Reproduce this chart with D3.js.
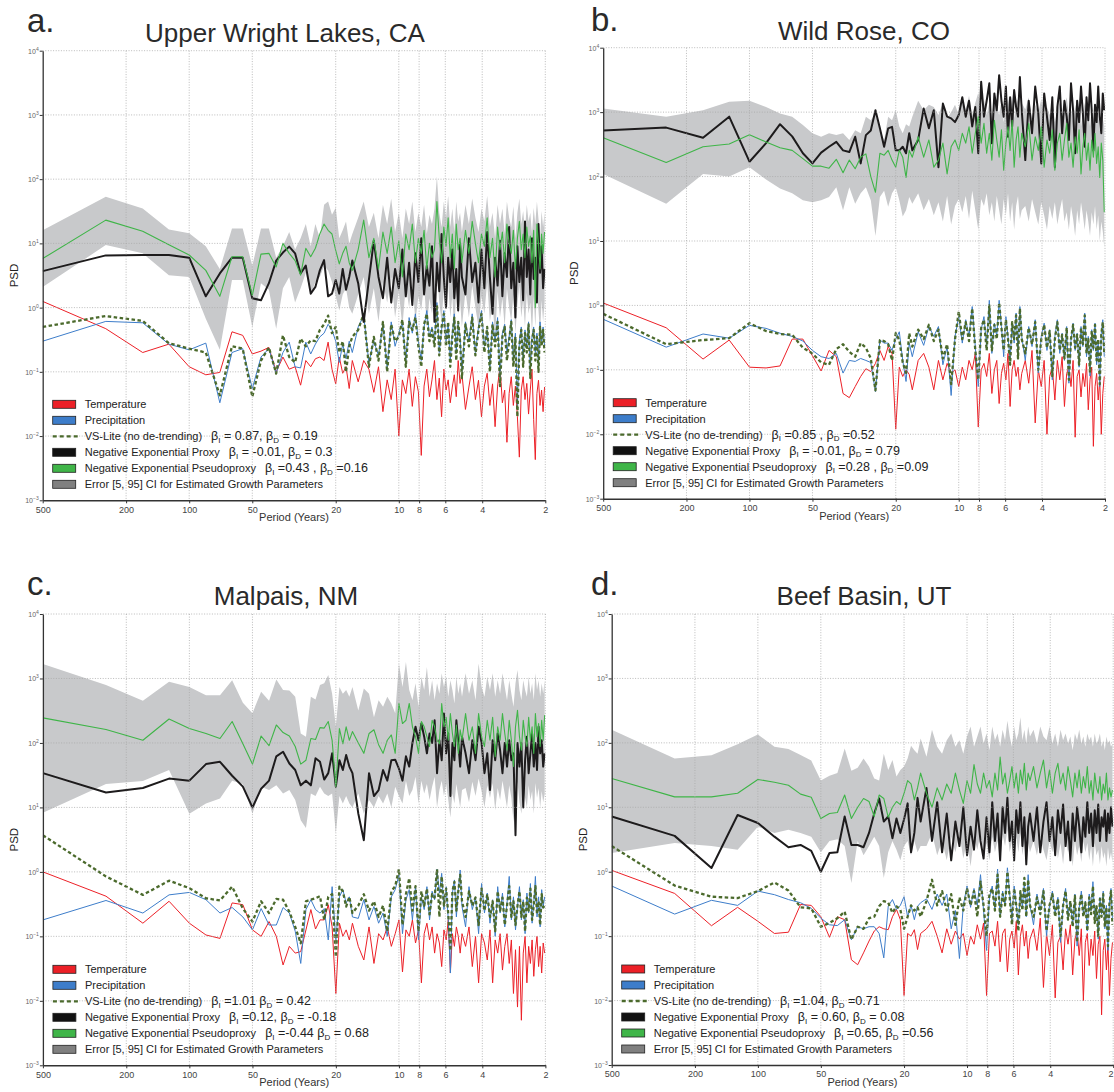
<!DOCTYPE html>
<html>
<head>
<meta charset="utf-8">
<script src="https://cdn.jsdelivr.net/npm/d3@7"></script>
<style>
  body { margin: 0; background: #fff; }
  text { font-family: "Liberation Sans", Arial, sans-serif; }
</style>
</head>
<body>
<div id="chart"></div>
<script>
// harmonics of a 500-yr record: every one up to 30, then thinned where the spectra get dense
const harmonics = d3.range(1, 31).concat(d3.range(32, 101, 2), d3.range(104, 249, 4));
const periods = harmonics.map(k => 500 / k);

const xTicks = [500, 200, 100, 50, 20, 10, 8, 6, 4, 2];
const yTicks = [1e-3, 1e-2, 1e-1, 1, 10, 100, 1000, 10000];

const legendLabels = ['Temperature', 'Precipitation', 'VS-Lite (no de-trending)',
  'Negative Exponential Proxy', 'Negative Exponential Pseudoproxy',
  'Error [5, 95] CI for Estimated Growth Parameters'];

// ---------- a. Upper Wright Lakes, CA ----------
const tempA = [1.25, 0.47, 0.2, 0.27, 0.12, 0.09, 0.098, 0.42, 0.37, 0.19, 0.21, 0.24, 0.1, 0.17, 0.11, 0.12, 0.062, 0.15, 0.12, 0.16, 0.17, 0.15, 0.29, 0.11, 0.065, 0.17, 0.095, 0.12, 0.055, 0.15,
  0.07, 0.15, 0.11, 0.048, 0.12, 0.024, 0.075, 0.037, 0.11, 0.01, 0.075, 0.046, 0.11, 0.029, 0.084, 0.049, 0.005, 0.06, 0.11, 0.041, 0.075, 0.15, 0.037, 0.08, 0.02, 0.11, 0.052, 0.075, 0.033, 0.058, 0.09, 0.041, 0.15, 0.066, 0.094,
  0.026, 0.058, 0.12, 0.037, 0.074, 0.02, 0.06, 0.095, 0.03, 0.065, 0.014, 0.06, 0.12, 0.033, 0.052, 0.008, 0.046, 0.084, 0.03, 0.06, 0.02, 0.0047, 0.052, 0.084, 0.037, 0.066, 0.022, 0.052, 0.11, 0.018, 0.0043, 0.046, 0.074, 0.03, 0.052, 0.024, 0.058];
const precA = [0.3, 0.61, 0.58, 0.27, 0.22, 0.28, 0.033, 0.2, 0.23, 0.055, 0.17, 0.23, 0.095, 0.2, 0.29, 0.12, 0.115, 0.29, 0.19, 0.27, 0.35, 0.4, 0.55, 0.45, 0.3, 0.14, 0.27, 0.16, 0.3, 0.2,
  0.5, 0.75, 0.14, 0.3, 0.18, 0.55, 0.12, 0.6, 0.25, 0.4, 0.6, 0.15, 0.7, 0.4, 0.8, 0.3, 0.15, 0.5, 0.9, 0.35, 0.5, 0.3, 1.2, 0.2, 0.45, 0.9, 0.3, 0.55, 0.15, 0.4, 0.8, 0.2, 0.55, 0.35, 0.1,
  0.6, 0.3, 0.8, 0.2, 0.5, 0.9, 0.25, 0.45, 0.12, 0.6, 0.3, 0.7, 0.08, 0.4, 0.55, 0.2, 0.35, 0.65, 0.15, 0.4, 0.03, 0.3, 0.5, 0.15, 0.45, 0.25, 0.6, 0.1, 0.35, 0.5, 0.2, 0.4, 0.12, 0.6, 0.3, 0.5, 0.25];
const vsA = [0.5, 0.74, 0.62, 0.28, 0.23, 0.2, 0.043, 0.25, 0.23, 0.041, 0.15, 0.24, 0.094, 0.37, 0.17, 0.14, 0.33, 0.25, 0.31, 0.3, 0.45, 0.55, 0.75, 0.4, 0.5, 0.2, 0.3, 0.1, 0.25, 0.35,
  0.45, 0.8, 0.12, 0.35, 0.15, 0.6, 0.1, 0.55, 0.3, 0.35, 0.65, 0.12, 0.6, 0.45, 0.7, 0.25, 0.12, 0.55, 0.8, 0.3, 0.45, 0.25, 1.1, 0.18, 0.5, 0.8, 0.25, 0.6, 0.12, 0.35, 0.7, 0.15, 0.6, 0.3, 0.08,
  0.55, 0.25, 0.7, 0.18, 0.45, 0.8, 0.2, 0.5, 0.1, 0.55, 0.25, 0.6, 0.06, 0.35, 0.5, 0.15, 0.3, 0.6, 0.12, 0.35, 0.02, 0.25, 0.45, 0.12, 0.4, 0.2, 0.55, 0.08, 0.3, 0.45, 0.15, 0.35, 0.1, 0.5, 0.25, 0.45, 0.2];
const proxyA = [3.7, 6.5, 6.6, 6.6, 6, 1.5, 3.4, 6, 6, 1.4, 1.3, 2.4, 5.4, 7.2, 8.9, 7, 3.4, 4.5, 1.65, 2.1, 3.8, 5.5, 1.5, 1.65, 2.7, 1.65, 4, 1.9, 3, 5.4,
  2.4, 0.6, 2.7, 11, 3, 1.4, 6, 1.2, 4, 2, 8, 1.5, 5, 1.1, 7, 2.5, 12, 1.6, 4.5, 2.2, 9, 0.6, 5, 1.8, 14, 3, 1, 6, 2.5, 8, 1.4, 4, 0.9, 10, 3,
  1.6, 12, 2.5, 5, 1.2, 8, 2, 15, 3, 0.8, 6, 2.2, 11, 1.5, 7, 3, 18, 2, 5, 0.7, 9, 2.5, 6, 1.3, 22, 3, 8, 1.6, 12, 2.8, 6, 1.2, 20, 3.5, 9, 2, 4];
const pseudoA = [5.8, 23, 15.5, 9.5, 6.6, 3.8, 1.5, 6.2, 6.2, 1.55, 6.8, 7, 4.3, 10, 7, 5.4, 3.2, 8.4, 6.2, 8.4, 14, 20, 16, 14, 7.8, 4.8, 7, 9, 5, 3.8,
  8, 23, 6, 12, 4, 15, 7, 18, 5, 11, 3, 14, 8, 20, 5, 12, 7, 16, 4, 10, 6, 8, 45, 12, 5, 18, 9, 25, 6, 14, 4, 20, 8, 12, 5,
  16, 7, 22, 10, 5, 14, 9, 25, 6, 12, 3, 18, 8, 15, 5, 20, 10, 7, 16, 4, 12, 22, 8, 14, 6, 18, 9, 13, 5, 16, 1, 20, 10, 4, 14, 7, 15];
const bandLoA = [2.1, 9.4, 7, 3.2, 3, 0.67, 0.22, 2.7, 2.7, 0.5, 2.4, 1.9, 0.47, 2, 3, 1.2, 2, 3.5, 1.6, 2.5, 3, 4.5, 3.8, 2.5, 1.5, 0.9, 1.6, 2, 1, 0.8,
  1.6, 3, 0.8, 2, 0.6, 2.5, 1.2, 3, 0.7, 1.8, 0.5, 2.2, 1, 2.8, 0.6, 1.5, 0.9, 2.4, 0.5, 1.4, 0.8, 1.8, 4, 1.2, 0.6, 2, 1, 2.6, 0.7, 1.5, 0.4, 2, 0.8, 1.3, 0.5,
  1.8, 0.7, 2.2, 1, 0.5, 1.5, 0.8, 2.5, 0.6, 1.2, 0.35, 1.8, 0.7, 1.4, 0.5, 2, 1, 0.6, 1.6, 0.4, 1.1, 2.2, 0.7, 1.3, 0.5, 1.7, 0.8, 1.2, 0.4, 1.5, 0.5, 1.8, 0.9, 0.4, 1.3, 0.6, 1.2];
const bandHiA = [16, 53, 35, 16.5, 14.4, 9, 4, 17, 17, 4.5, 17, 17, 6, 9, 15, 8, 12, 20, 9, 20, 12, 40, 45, 28, 36, 12, 16, 22, 10, 14,
  25, 45, 18, 30, 12, 40, 20, 50, 15, 30, 12, 35, 20, 45, 15, 30, 18, 40, 14, 28, 20, 35, 110, 30, 18, 45, 25, 55, 18, 35, 15, 45, 22, 30, 15,
  40, 20, 50, 25, 15, 35, 22, 55, 18, 30, 12, 40, 20, 35, 14, 45, 25, 18, 38, 12, 30, 50, 20, 32, 16, 40, 22, 30, 14, 36, 20, 45, 24, 12, 32, 18, 30];
const betaA = ['β_I = 0.87, β_D = 0.19', 'β_I = -0.01, β_D = 0.3', 'β_I =0.43 , β_D =0.16'];

// ---------- b. Wild Rose, CO ----------
const tempB = [1.09, 0.45, 0.147, 0.29, 0.11, 0.107, 0.115, 0.3, 0.3, 0.165, 0.096, 0.2, 0.16, 0.043, 0.037, 0.055, 0.079, 0.104, 0.094, 0.126, 0.2, 0.14, 0.23, 0.18, 0.012, 0.11, 0.079, 0.1, 0.085, 0.049,
  0.14, 0.18, 0.11, 0.049, 0.14, 0.07, 0.126, 0.088, 0.1, 0.055, 0.11, 0.07, 0.14, 0.1, 0.18, 0.013, 0.1, 0.126, 0.079, 0.18, 0.043, 0.1, 0.14, 0.03, 0.088, 0.126, 0.07, 0.18, 0.027, 0.1, 0.14, 0.079, 0.11, 0.049, 0.088,
  0.14, 0.062, 0.2, 0.015, 0.1, 0.055, 0.14, 0.01, 0.079, 0.11, 0.034, 0.14, 0.07, 0.16, 0.027, 0.088, 0.11, 0.055, 0.14, 0.009, 0.079, 0.1, 0.038, 0.088, 0.055, 0.126, 0.024, 0.07, 0.11, 0.0065, 0.055, 0.088, 0.034, 0.07, 0.01, 0.043, 0.079];
const precB = [0.61, 0.225, 0.36, 0.31, 0.49, 0.44, 0.37, 0.33, 0.28, 0.2, 0.16, 0.15, 0.18, 0.089, 0.14, 0.135, 0.15, 0.14, 0.13, 0.046, 0.29, 0.26, 0.26, 0.2, 0.3, 0.39, 0.14, 0.066, 0.26, 0.16,
  0.39, 0.24, 0.47, 0.33, 0.47, 0.12, 0.23, 0.04, 0.33, 0.67, 0.26, 0.6, 0.33, 0.96, 0.23, 0.055, 0.42, 0.67, 0.23, 1.2, 0.18, 0.53, 0.33, 1.2, 0.47, 0.16, 0.67, 0.33, 0.14, 0.53, 0.26, 0.76, 0.18, 0.96, 0.33,
  0.14, 0.47, 0.23, 0.6, 0.09, 0.33, 0.53, 0.2, 0.42, 0.07, 0.33, 0.6, 0.18, 0.37, 0.14, 0.47, 0.062, 0.29, 0.53, 0.2, 0.37, 0.11, 0.47, 0.23, 0.76, 0.16, 0.33, 0.08, 0.42, 0.2, 0.53, 0.12, 0.29, 0.055, 0.37, 0.6, 0.16];
const vsB = [0.74, 0.25, 0.29, 0.31, 0.53, 0.4, 0.36, 0.35, 0.22, 0.18, 0.13, 0.12, 0.21, 0.25, 0.19, 0.16, 0.26, 0.22, 0.15, 0.048, 0.29, 0.28, 0.25, 0.14, 0.37, 0.29, 0.13, 0.09, 0.37, 0.23,
  0.42, 0.3, 0.5, 0.28, 0.42, 0.15, 0.25, 0.06, 0.3, 0.8, 0.3, 0.55, 0.28, 0.9, 0.2, 0.07, 0.45, 0.6, 0.2, 1.0, 0.2, 0.5, 0.3, 1.1, 0.45, 0.2, 0.6, 0.3, 0.12, 0.55, 0.3, 0.7, 0.15, 0.9, 0.3,
  0.18, 0.45, 0.25, 0.55, 0.1, 0.3, 0.5, 0.22, 0.4, 0.08, 0.3, 0.55, 0.2, 0.35, 0.15, 0.45, 0.07, 0.3, 0.5, 0.22, 0.35, 0.12, 0.45, 0.25, 0.7, 0.18, 0.3, 0.09, 0.4, 0.22, 0.5, 0.14, 0.3, 0.06, 0.35, 0.55, 0.18];
const proxyB = [520, 575, 400, 850, 170, 330, 650, 420, 230, 160, 235, 290, 345, 255, 240, 415, 160, 440, 520, 1070, 560, 290, 560, 590, 255, 255, 290, 230, 470, 255,
  370, 1140, 560, 1070, 140, 1360, 850, 800, 700, 900, 1700, 850, 1500, 600, 1200, 230, 2950, 850, 1500, 2800, 330, 1950, 1070, 3750, 1500, 850, 2500, 415, 1700, 600, 2200, 1200, 850, 3500, 1070,
  180, 1500, 470, 2500, 950, 160, 1950, 850, 370, 1700, 140, 1200, 2500, 470, 1500, 850, 370, 2800, 1070, 230, 1500, 700, 2500, 950, 290, 1700, 750, 2800, 1070, 255, 1300, 700, 2500, 850, 470, 1950, 1070];
const pseudoB = [400, 165, 290, 320, 445, 345, 280, 255, 190, 145, 145, 135, 185, 115, 180, 132, 200, 225, 100, 57, 230, 215, 255, 180, 140, 255, 200, 97, 255, 200,
  415, 200, 370, 140, 180, 330, 110, 290, 370, 255, 470, 330, 590, 230, 470, 850, 330, 670, 230, 470, 180, 750, 370, 200, 530, 125, 330, 590, 255, 750, 140, 370, 590, 200, 470,
  290, 670, 180, 415, 255, 590, 140, 370, 230, 530, 125, 330, 470, 180, 370, 670, 200, 330, 140, 415, 230, 530, 110, 290, 470, 180, 330, 125, 370, 200, 470, 160, 290, 97, 330, 180, 28];
const bandLoB = [110, 38, 110, 100, 140, 90, 65, 55, 43, 40, 43, 48, 68, 30, 68, 38, 55, 68, 43, 12, 48, 60, 34, 55, 68, 43, 24, 30, 48, 38,
  55, 30, 45, 25, 40, 20, 50, 18, 35, 45, 28, 50, 22, 60, 30, 15, 45, 35, 55, 25, 40, 20, 50, 30, 18, 45, 25, 55, 20, 40, 15, 35, 50, 22, 30,
  35, 20, 45, 28, 18, 40, 25, 15, 35, 22, 40, 18, 30, 45, 20, 28, 15, 35, 22, 12, 30, 18, 40, 25, 15, 30, 20, 12, 28, 18, 35, 15, 25, 10, 20, 14, 8];
const bandHiB = [1140, 850, 1070, 1450, 1500, 1200, 950, 850, 630, 470, 415, 470, 440, 470, 370, 525, 470, 850, 750, 950, 525, 370, 850, 750, 1070, 600, 470, 650, 600, 850,
  1500, 1070, 1300, 1200, 900, 1400, 800, 1000, 1300, 900, 1600, 1100, 1800, 900, 1400, 2000, 1000, 1600, 900, 1400, 800, 1900, 1200, 900, 1500, 700, 1100, 1700, 1000, 1900, 800, 1300, 1600, 900, 1400,
  1100, 1700, 800, 1300, 1000, 1600, 700, 1200, 900, 1500, 700, 1100, 1400, 800, 1200, 1700, 900, 1100, 700, 1300, 900, 1500, 600, 1000, 1400, 800, 1100, 600, 1200, 800, 1300, 700, 1000, 500, 1100, 800, 600];
const betaB = ['β_I =0.85 , β_D =0.52', 'β_I = -0.01, β_D = 0.79', 'β_I =0.28 , β_D =0.09'];

// ---------- c. Malpais, NM ----------
const tempC = [1.0, 0.42, 0.16, 0.35, 0.16, 0.105, 0.093, 0.33, 0.31, 0.126, 0.1, 0.17, 0.1, 0.036, 0.07, 0.055, 0.058, 0.126, 0.26, 0.13, 0.18, 0.18, 0.31, 0.14, 0.013, 0.16, 0.1, 0.126, 0.088, 0.16,
  0.07, 0.043, 0.14, 0.038, 0.11, 0.088, 0.14, 0.07, 0.11, 0.18, 0.028, 0.126, 0.1, 0.18, 0.079, 0.126, 0.019, 0.11, 0.16, 0.088, 0.14, 0.055, 0.11, 0.079, 0.034, 0.126, 0.088, 0.18, 0.027, 0.11, 0.07, 0.14, 0.1, 0.055, 0.11,
  0.07, 0.14, 0.034, 0.1, 0.019, 0.11, 0.079, 0.043, 0.126, 0.019, 0.088, 0.055, 0.11, 0.03, 0.07, 0.11, 0.038, 0.088, 0.013, 0.062, 0.008, 0.07, 0.005, 0.055, 0.1, 0.019, 0.07, 0.038, 0.088, 0.024, 0.062, 0.1, 0.034, 0.07, 0.027, 0.079, 0.055];
const precC = [0.18, 0.36, 0.23, 0.44, 0.48, 0.37, 0.23, 0.28, 0.2, 0.126, 0.27, 0.15, 0.15, 0.28, 0.23, 0.12, 0.038, 0.26, 0.37, 0.26, 0.23, 0.27, 0.088, 0.59, 0.088, 0.41, 0.53, 0.33, 0.41, 0.2,
  0.19, 0.37, 0.18, 0.29, 0.16, 0.23, 0.1, 0.41, 0.53, 0.9, 0.11, 0.37, 0.53, 0.18, 0.59, 0.088, 0.41, 0.26, 0.59, 0.18, 0.5, 0.37, 1.1, 0.47, 0.95, 0.26, 0.59, 0.18, 0.027, 0.47, 0.75, 0.2, 0.53, 1.07, 0.29,
  0.14, 0.59, 0.26, 0.41, 0.11, 0.66, 0.23, 0.47, 0.16, 0.37, 0.1, 0.59, 0.23, 0.47, 0.14, 0.33, 0.85, 0.18, 0.41, 0.126, 0.29, 0.59, 0.18, 0.37, 0.11, 0.47, 0.23, 0.66, 0.16, 0.33, 0.85, 0.2, 0.41, 0.14, 0.53, 0.29, 0.41];
const vsC = [3.7, 0.85, 0.44, 0.73, 0.56, 0.39, 0.36, 0.59, 0.27, 0.17, 0.35, 0.23, 0.38, 0.37, 0.24, 0.14, 0.078, 0.35, 0.37, 0.39, 0.42, 0.18, 0.41, 0.45, 0.048, 0.59, 0.5, 0.29, 0.41, 0.23,
  0.3, 0.45, 0.25, 0.35, 0.2, 0.3, 0.12, 0.5, 0.6, 1.1, 0.15, 0.45, 0.8, 0.25, 0.6, 0.12, 0.5, 0.3, 0.55, 0.22, 0.45, 0.4, 1.1, 0.2, 0.85, 0.3, 0.55, 0.22, 0.06, 0.5, 0.7, 0.25, 0.5, 0.9, 0.35,
  0.2, 0.5, 0.3, 0.4, 0.15, 0.55, 0.25, 0.45, 0.2, 0.35, 0.12, 0.5, 0.25, 0.4, 0.15, 0.3, 0.6, 0.2, 0.35, 0.15, 0.3, 0.5, 0.2, 0.35, 0.12, 0.4, 0.25, 0.55, 0.18, 0.3, 0.6, 0.22, 0.35, 0.15, 0.45, 0.28, 0.3];
const proxyC = [34, 17, 20, 28, 26, 47, 51, 31, 21, 10, 19.5, 26, 62, 73, 48, 38, 22, 26, 22, 58, 51, 27, 34, 69, 21, 54, 38, 65, 43, 34,
  8, 3.1, 34, 15, 18.6, 38, 26, 54, 55, 40, 26, 62, 43, 100, 178, 110, 200, 125, 69, 140, 100, 225, 34, 110, 54, 285, 69, 140, 15, 100, 54, 225, 100, 43, 125,
  69, 34, 110, 54, 178, 100, 34, 69, 18.6, 110, 54, 140, 77, 34, 100, 43, 110, 54, 69, 3.7, 100, 43, 100, 10, 54, 125, 34, 69, 140, 43, 100, 38, 178, 69, 110, 43, 69];
const pseudoC = [245, 162, 110, 235, 167, 140, 117, 215, 97, 47, 128, 91, 190, 145, 128, 88, 47, 54, 117, 113, 173, 170, 215, 110, 21, 167, 97, 178, 110, 150,
  100, 69, 140, 160, 94, 69, 110, 133, 69, 410, 200, 225, 410, 178, 125, 69, 215, 178, 125, 88, 225, 178, 110, 97, 410, 178, 250, 110, 285, 140, 88, 190, 69, 160, 110,
  285, 110, 178, 69, 285, 125, 88, 225, 110, 250, 61, 178, 110, 285, 140, 77, 225, 110, 43, 178, 320, 125, 77, 225, 125, 88, 250, 110, 178, 69, 285, 125, 200, 88, 225, 110, 270];
const bandLoC = [8.3, 23, 25.7, 38, 8, 11.5, 13.7, 26, 23, 8, 21, 18.6, 22, 16.5, 18.6, 13, 6.3, 4.8, 16.5, 15, 21, 16.5, 15, 16.5, 4, 15, 11.5, 15, 11.5, 10,
  16.5, 8, 13, 10, 15, 11.5, 16.5, 10, 21, 15, 11.5, 26, 15, 18.6, 30, 11.5, 26, 16.5, 23, 13, 21, 30, 10, 18.6, 26, 15, 23, 13, 7, 16.5, 11.5, 23, 15, 10, 18.6,
  20, 12, 25, 15, 28, 18, 10, 22, 14, 24, 9, 20, 13, 26, 16, 10, 22, 14, 6, 18, 25, 12, 8, 20, 14, 10, 22, 13, 18, 8, 24, 14, 20, 10, 18, 12, 16];
const bandHiC = [1670, 790, 450, 890, 740, 550, 550, 940, 420, 290, 620, 450, 960, 660, 650, 520, 140, 125, 520, 470, 790, 840, 1130, 580, 180, 740, 580, 660, 520, 740,
  320, 700, 580, 250, 460, 365, 520, 410, 290, 1700, 740, 1800, 660, 460, 840, 365, 1060, 660, 1500, 520, 940, 460, 840, 580, 1200, 740, 1060, 520, 940, 660, 410, 1060, 580, 840, 520,
  1200, 580, 940, 460, 1700, 740, 520, 1060, 660, 1200, 520, 940, 580, 1200, 740, 460, 940, 580, 365, 840, 1350, 660, 460, 940, 660, 520, 1060, 580, 840, 460, 1200, 660, 940, 520, 840, 580, 940];
const betaC = ['β_I =1.01 β_D = 0.42', 'β_I =0.12, β_D = -0.18', 'β_I =-0.44 β_D = 0.68'];

// ---------- d. Beef Basin, UT ----------
const tempD = [1.05, 0.46, 0.145, 0.28, 0.17, 0.11, 0.115, 0.31, 0.3, 0.2, 0.096, 0.2, 0.18, 0.043, 0.036, 0.055, 0.084, 0.12, 0.14, 0.13, 0.126, 0.2, 0.26, 0.18, 0.012, 0.11, 0.1, 0.126, 0.062, 0.11,
  0.13, 0.17, 0.1, 0.055, 0.13, 0.075, 0.12, 0.09, 0.11, 0.05, 0.1, 0.075, 0.15, 0.09, 0.16, 0.012, 0.11, 0.12, 0.07, 0.17, 0.04, 0.11, 0.13, 0.028, 0.09, 0.12, 0.065, 0.17, 0.025, 0.1, 0.15, 0.07, 0.12, 0.045, 0.09,
  0.13, 0.06, 0.19, 0.016, 0.11, 0.05, 0.15, 0.011, 0.08, 0.1, 0.03, 0.13, 0.075, 0.15, 0.025, 0.09, 0.12, 0.05, 0.13, 0.01, 0.08, 0.11, 0.035, 0.09, 0.05, 0.12, 0.022, 0.075, 0.1, 0.006, 0.06, 0.09, 0.03, 0.075, 0.012, 0.045, 0.08];
const precD = [0.6, 0.22, 0.36, 0.3, 0.5, 0.44, 0.37, 0.33, 0.27, 0.19, 0.15, 0.146, 0.18, 0.088, 0.14, 0.13, 0.14, 0.14, 0.11, 0.046, 0.29, 0.37, 0.26, 0.3, 0.41, 0.2, 0.3, 0.18, 0.29, 0.33,
  0.38, 0.26, 0.45, 0.3, 0.45, 0.13, 0.25, 0.045, 0.3, 0.6, 0.28, 0.55, 0.3, 0.9, 0.25, 0.06, 0.4, 0.6, 0.25, 1.1, 0.2, 0.5, 0.3, 1.15, 0.45, 0.18, 0.6, 0.3, 0.15, 0.5, 0.28, 0.7, 0.2, 0.9, 0.3,
  0.15, 0.45, 0.25, 0.55, 0.1, 0.3, 0.5, 0.22, 0.4, 0.08, 0.3, 0.55, 0.2, 0.35, 0.15, 0.45, 0.07, 0.28, 0.5, 0.22, 0.35, 0.12, 0.45, 0.25, 0.7, 0.18, 0.3, 0.09, 0.4, 0.22, 0.5, 0.13, 0.3, 0.06, 0.35, 0.55, 0.18];
const vsD = [2.5, 0.61, 0.41, 0.39, 0.5, 0.68, 0.51, 0.28, 0.27, 0.14, 0.16, 0.19, 0.24, 0.088, 0.14, 0.13, 0.19, 0.2, 0.29, 0.35, 0.33, 0.23, 0.29, 0.26, 0.13, 0.2, 0.3, 0.25, 0.28, 0.2,
  0.35, 0.75, 0.3, 0.5, 0.25, 0.45, 0.15, 0.4, 0.25, 0.55, 0.3, 0.5, 0.2, 0.7, 0.3, 0.1, 0.45, 0.55, 0.25, 0.9, 0.2, 0.45, 0.3, 1.0, 0.4, 0.15, 0.55, 0.3, 0.12, 0.5, 0.25, 0.8, 0.2, 0.75, 0.3,
  0.2, 0.4, 0.22, 0.5, 0.12, 0.3, 0.45, 0.2, 0.38, 0.1, 0.3, 0.5, 0.18, 0.35, 0.14, 0.42, 0.08, 0.28, 0.45, 0.2, 0.33, 0.12, 0.4, 0.22, 0.6, 0.16, 0.3, 0.1, 0.38, 0.2, 0.45, 0.14, 0.28, 0.07, 0.33, 0.5, 0.15];
const proxyD = [7.2, 3.6, 1.14, 7.6, 5.7, 3.5, 2.4, 2.6, 2.1, 1.0, 1.95, 2, 7.2, 2.6, 2.6, 2.4, 4, 8, 13.7, 6, 7.2, 3.3, 6.7, 4, 6.5, 11.5, 2, 4, 14, 6,
  20, 3, 12, 2, 8, 1.5, 6, 2.5, 10, 1.8, 5, 2.2, 9, 3, 1.6, 7, 2, 12, 3, 8, 1.5, 10, 4, 14, 3, 6, 1.5, 9, 4, 12, 2.5, 7, 1.3, 5, 8,
  3, 10, 2, 6, 12, 3, 7, 1.8, 9, 4, 11, 2.5, 6, 1.5, 8, 3, 10, 5, 2, 7, 3.5, 12, 4, 8, 2.5, 9, 4, 11, 3, 7, 5, 9, 3, 8, 4, 10, 5];
const pseudoD = [28, 14.5, 14.5, 16.5, 27, 24.5, 22, 16, 14.3, 6.7, 8, 8.3, 15.5, 6.7, 10, 13.7, 12.3, 7.2, 15.5, 13.7, 7, 10, 12.3, 11, 16.5, 26, 23, 13, 20, 34,
  16.5, 10, 20, 13, 23, 16.5, 34, 18.5, 11.5, 26, 16.5, 46, 23, 16.5, 34, 20, 26, 14.5, 34, 18.5, 60, 23, 34, 16.5, 26, 43, 20, 34, 16.5, 38, 23, 48, 18.5, 34, 26,
  43, 20, 34, 54, 20, 38, 16.5, 34, 48, 23, 34, 18.5, 43, 26, 14.5, 34, 20, 38, 16.5, 30, 20, 43, 16.5, 26, 13, 34, 20, 16.5, 30, 13, 23, 16.5, 34, 13, 20, 14.5, 18.5];
const bandLoD = [1.95, 2.8, 2.5, 2.2, 5, 4, 4.5, 4, 3.5, 2, 3, 3.2, 2.5, 0.67, 3, 1.8, 2.5, 3.5, 2.5, 0.8, 2, 3, 2.2, 1.5, 2.5, 3, 1.8, 3, 2, 2.5,
  2.5, 4, 1.8, 3, 1.5, 3.5, 2, 4, 1.6, 3, 1.2, 3.5, 2.2, 4, 1.8, 2.8, 1.5, 3.5, 2, 3, 1.4, 3.8, 2.5, 4.5, 2, 3, 1.5, 3.5, 2, 4, 1.8, 3, 1.2, 2.8, 2,
  3, 1.8, 3.5, 2.2, 1.5, 3, 2, 3.5, 1.6, 2.8, 1.3, 3.2, 2, 2.6, 1.2, 3, 1.8, 2.5, 1.4, 3, 2, 2.8, 1.5, 2.5, 1.2, 2.8, 1.8, 2.2, 1.3, 2.5, 1.6, 2, 1.2, 2.4, 1.5, 2, 1.4];
const bandHiD = [160, 57, 64, 95, 135, 87, 80, 65, 53, 26, 31, 34, 82, 37, 41, 57, 43, 28, 26, 68, 38, 54, 30, 38, 43, 57, 90, 77, 68, 117,
  61, 160, 87, 68, 110, 140, 87, 110, 68, 125, 180, 87, 125, 180, 98, 140, 77, 180, 110, 140, 87, 160, 110, 220, 125, 87, 180, 110, 140, 250, 110, 160, 98, 180, 125,
  160, 98, 180, 125, 110, 180, 98, 140, 87, 160, 110, 140, 98, 125, 77, 140, 110, 160, 98, 125, 87, 140, 110, 125, 87, 140, 98, 110, 140, 87, 110, 77, 125, 98, 110, 87, 98];
const betaD = ['β_I =1.04, β_D =0.71', 'β_I = 0.60, β_D = 0.08', 'β_I =0.65, β_D =0.56'];

const colors = {
  temp: '#ec2027', prec: '#3d7dca', vs: '#4b6a2c', proxy: '#1d1b1c',
  pseudo: '#3fb548', band: '#c8c9cb', error: '#808080'
};

// panel frames: [left, top, right, bottom] of the plotting area
const panels = [
  { label: 'a.', title: 'Upper Wright Lakes, CA', box: [42.7, 50.7, 545.3, 500.3], titleX: 285, titleY: 42, labelX: 27, labelY: 32,
    temp: tempA, prec: precA, vs: vsA, proxy: proxyA, pseudo: pseudoA, lo: bandLoA, hi: bandHiA, betas: betaA },
  { label: 'b.', title: 'Wild Rose, CO', box: [603.2, 47.7, 1105, 498.7], titleX: 864, titleY: 40, labelX: 591, labelY: 31,
    temp: tempB, prec: precB, vs: vsB, proxy: proxyB, pseudo: pseudoB, lo: bandLoB, hi: bandHiB, betas: betaB },
  { label: 'c.', title: 'Malpais, NM', box: [42.9, 614, 545.4, 1065.3], titleX: 286, titleY: 605, labelX: 27, labelY: 595,
    temp: tempC, prec: precC, vs: vsC, proxy: proxyC, pseudo: pseudoC, lo: bandLoC, hi: bandHiC, betas: betaC },
  { label: 'd.', title: 'Beef Basin, UT', box: [611.7, 614, 1113.2, 1065], titleX: 864, titleY: 605, labelX: 591, labelY: 595,
    temp: tempD, prec: precD, vs: vsD, proxy: proxyD, pseudo: pseudoD, lo: bandLoD, hi: bandHiD, betas: betaD }
];

const svg = d3.select('#chart').append('svg')
  .attr('width', 1114).attr('height', 1092)
  .style('background-color', 'white');

// writes "β_I" style tokens as beta with a subscript letter
function betaText(text, str) {
  let shift = 0;
  str.split(/(β_[ID])/).filter(s => s.length).forEach(part => {
    if (/^β_[ID]$/.test(part)) {
      text.append('tspan').attr('dy', -shift).text('β');
      text.append('tspan').attr('dy', 2.5).attr('font-size', 8).text(part.slice(2));
      shift = 2.5;
    } else {
      text.append('tspan').attr('dy', -shift).text(part);
      shift = 0;
    }
  });
}

panels.forEach((p, pi) => {
  const [L, T, R, B] = p.box;
  const x = d3.scaleLog().domain([500, 2]).range([L, R]);
  const y = d3.scaleLog().domain([1e-3, 1e4]).range([B, T]);
  const g = svg.append('g');

  const clipId = 'clip' + pi;
  svg.append('clipPath').attr('id', clipId)
    .append('rect').attr('x', L).attr('y', T).attr('width', R - L).attr('height', B - T);
  const plot = g.append('g').attr('clip-path', `url(#${clipId})`);

  // error band
  const band = periods.map((per, i) => ({ per, lo: p.lo[i], hi: p.hi[i] }));
  plot.append('path').datum(band)
    .attr('fill', colors.band)
    .attr('d', d3.area().x(d => x(d.per)).y0(d => y(d.lo)).y1(d => y(d.hi)));

  // dotted grid
  g.append('g').selectAll('line').data(xTicks.slice(1)).join('line')
    .attr('x1', d => x(d)).attr('x2', d => x(d)).attr('y1', T).attr('y2', B)
    .attr('stroke', '#a9a9a9').attr('stroke-width', 0.8).attr('stroke-dasharray', '1,1.6');
  g.append('g').selectAll('line').data(yTicks.slice(1)).join('line')
    .attr('x1', L).attr('x2', R).attr('y1', d => y(d)).attr('y2', d => y(d))
    .attr('stroke', '#a9a9a9').attr('stroke-width', 0.8).attr('stroke-dasharray', '1,1.6');

  const line = d3.line().x(d => x(d[0])).y(d => y(d[1]));
  const series = [
    { vals: p.temp, color: colors.temp, width: 1 },
    { vals: p.prec, color: colors.prec, width: 1 },
    { vals: p.vs, color: colors.vs, width: 2.3, dash: '3.5,2.5' },
    { vals: p.proxy, color: colors.proxy, width: 2 },
    { vals: p.pseudo, color: colors.pseudo, width: 1.1 }
  ];
  series.forEach(s => {
    plot.append('path')
      .datum(periods.map((per, i) => [per, s.vals[i]]).filter(d => d[1] != null))
      .attr('fill', 'none')
      .attr('stroke', s.color)
      .attr('stroke-width', s.width)
      .attr('stroke-dasharray', s.dash || null)
      .attr('stroke-linejoin', 'round')
      .attr('d', line);
  });

  // axes
  const xAxis = g.append('g').attr('transform', `translate(0,${B})`)
    .call(d3.axisBottom(x).tickValues(xTicks).tickFormat(d3.format('d')).tickSize(3).tickSizeOuter(0));
  xAxis.select('.domain').attr('stroke', '#333').attr('stroke-width', 1.6);
  xAxis.selectAll('.tick line').attr('stroke', '#333');
  xAxis.selectAll('.tick text').attr('font-size', 9).attr('fill', '#444')
    .attr('font-family', '"Liberation Sans", Arial, sans-serif');
  // keep the last label inside the page when the axis runs to the edge
  xAxis.selectAll('.tick text').filter(d => d === 2 && R > 1108)
    .attr('text-anchor', 'end').attr('dx', 1113 - R);

  const yAxis = g.append('g').attr('transform', `translate(${L},0)`)
    .call(d3.axisLeft(y).tickValues(yTicks).tickFormat('').tickSize(3).tickSizeOuter(0));
  yAxis.select('.domain').attr('stroke', '#333').attr('stroke-width', 1.3);
  yAxis.selectAll('.tick line').attr('stroke', '#333');
  yAxis.selectAll('.tick').each(function (d) {
    const t = d3.select(this).append('text')
      .attr('x', -4).attr('y', 2.5).attr('text-anchor', 'end')
      .attr('fill', '#666').attr('font-family', '"DejaVu Serif", serif').attr('font-size', 7);
    t.append('tspan').text('10');
    t.append('tspan').attr('dy', -3).attr('font-size', 5)
      .text(String(Math.round(Math.log10(d))).replace('-', '\u2212'));
  });

  g.append('text').attr('x', (L + R) / 2).attr('y', B + 21)
    .attr('text-anchor', 'middle').attr('font-size', 11).attr('fill', '#333')
    .text('Period (Years)');
  g.append('text')
    .attr('transform', `translate(${L - 25},${(T + B) / 2}) rotate(-90)`)
    .attr('text-anchor', 'middle').attr('font-size', 11.5).attr('fill', '#222')
    .text('PSD');

  // titles
  g.append('text').attr('x', p.titleX).attr('y', p.titleY).attr('text-anchor', 'middle')
    .attr('font-family', 'Roboto, sans-serif').attr('font-weight', 300)
    .attr('font-size', 26).attr('fill', '#2a2a2a').text(p.title);
  g.append('text').attr('x', p.labelX).attr('y', p.labelY)
    .attr('font-family', 'Roboto, sans-serif').attr('font-weight', 300)
    .attr('font-size', 33).attr('fill', '#2a2a2a').text(p.label);

  // legend
  const swatch = [colors.temp, colors.prec, null, '#111', colors.pseudo, colors.error];
  const leg = g.append('g');
  legendLabels.forEach((lab, i) => {
    const cy = B - 96 + i * 16;
    if (i === 2) {
      leg.append('line').attr('x1', L + 10).attr('x2', L + 38).attr('y1', cy).attr('y2', cy)
        .attr('stroke', colors.vs).attr('stroke-width', 2.3).attr('stroke-dasharray', '4,3');
    } else {
      leg.append('rect').attr('x', L + 10).attr('y', cy - 4).attr('width', 23).attr('height', 8)
        .attr('fill', swatch[i]).attr('stroke', '#222').attr('stroke-width', 0.8);
    }
    const t = leg.append('text').attr('x', L + 42).attr('y', cy + 4)
      .attr('font-size', 11).attr('fill', '#222').text(lab);
    const beta = p.betas[i - 2];
    if (i >= 2 && i <= 4 && beta) {
      const len = t.node().getComputedTextLength();
      const bt = leg.append('text').attr('x', L + 42 + len + 9).attr('y', cy + 4)
        .attr('font-size', 12.5).attr('fill', '#222');
      betaText(bt, beta);
    }
  });
});
</script>
</body>
</html>
